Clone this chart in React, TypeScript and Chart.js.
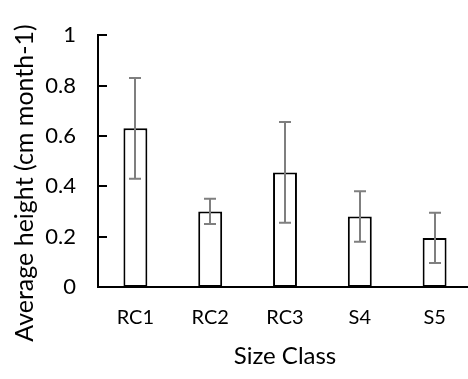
import React, { useEffect, useRef } from 'react';
import { Chart, registerables } from 'chart.js';

Chart.register(...registerables);

const categories = ['RC1', 'RC2', 'RC3', 'S4', 'S5'];
const values = [0.63, 0.3, 0.455, 0.28, 0.195];
const errors = [0.2, 0.05, 0.2, 0.1, 0.1];
const yTickValues = [0, 0.2, 0.4, 0.6, 0.8, 1];
const xTitle = 'Size Class';
const yTitle = 'Average height (cm month-1)';

const FONT = 'Lato';
const TEXT = '#000000';

export default function App() {
  const ref = useRef<HTMLCanvasElement>(null);

  useEffect(() => {
    let chart: Chart | null = null;
    let cancelled = false;

    const errorBars = {
      id: 'errorBars',
      afterDatasetsDraw(c: any) {
        const { ctx } = c;
        const meta = c.getDatasetMeta(0);
        const ys = c.scales.y;
        ctx.save();
        ctx.strokeStyle = '#7f7f7f';
        ctx.lineWidth = 2;
        meta.data.forEach((bar: any, i: number) => {
          const x = Math.round(bar.x);
          const yt = ys.getPixelForValue(values[i] + errors[i]);
          const yb = ys.getPixelForValue(values[i] - errors[i]);
          ctx.beginPath();
          ctx.moveTo(x, yt);
          ctx.lineTo(x, yb);
          ctx.moveTo(x - 6, yt);
          ctx.lineTo(x + 6, yt);
          ctx.moveTo(x - 6, yb);
          ctx.lineTo(x + 6, yb);
          ctx.stroke();
        });
        ctx.restore();
      },
    };

    const extras = {
      id: 'extras',
      afterDraw(c: any) {
        const { ctx, chartArea } = c;
        const ys = c.scales.y;
        ctx.save();
        ctx.strokeStyle = '#000';
        ctx.lineWidth = 2;
        yTickValues.forEach((v) => {
          const y = Math.round(ys.getPixelForValue(v));
          ctx.beginPath();
          ctx.moveTo(chartArea.left, y);
          ctx.lineTo(chartArea.left + 9, y);
          ctx.stroke();
        });
        ctx.fillStyle = TEXT;
        ctx.font = `25px ${FONT}`;
        ctx.translate(33, 183);
        ctx.rotate(-Math.PI / 2);
        ctx.textAlign = 'center';
        ctx.textBaseline = 'alphabetic';
        ctx.fillText(yTitle, 0, 0);
        ctx.restore();
      },
    };

    const create = () => {
      if (cancelled || !ref.current) return;
      chart = new Chart(ref.current, {
        type: 'bar',
        data: {
          labels: categories,
          datasets: [
            {
              data: values,
              backgroundColor: '#ffffff',
              borderColor: '#000000',
              borderWidth: 2,
              borderSkipped: false,
              barPercentage: 0.32,
              categoryPercentage: 1,
            },
          ],
        },
        options: {
          responsive: false,
          animation: false,
          devicePixelRatio: 1,
          layout: { padding: { top: 15, left: 0, right: 0, bottom: 0 } },
          plugins: {
            legend: { display: false },
            tooltip: { enabled: false },
          },
          scales: {
            x: {
              grid: { display: false, drawTicks: false },
              border: { display: true, color: '#000', width: 2 },
              ticks: {
                color: TEXT,
                font: { family: FONT, size: 20 },
                padding: 19,
                maxRotation: 0,
              },
              title: {
                display: true,
                text: xTitle,
                color: TEXT,
                font: { family: FONT, size: 24 },
                padding: { top: 0, bottom: 8 },
              },
              afterFit: (s: any) => {
                s.height = 92;
              },
            },
            y: {
              min: 0,
              max: 1,
              grid: { display: false, drawTicks: false },
              border: { display: true, color: '#000', width: 2 },
              afterBuildTicks: (s: any) => {
                s.ticks = yTickValues.map((v) => ({ value: v }));
              },
              ticks: {
                color: TEXT,
                font: { family: FONT, size: 22 },
                padding: 22,
                callback: (v: any) => String(Math.round(Number(v) * 10) / 10),
              },
              afterFit: (s: any) => {
                s.width = 98;
              },
            },
          },
        },
        plugins: [errorBars, extras],
      });
    };

    if ((document as any).fonts && (document as any).fonts.load) {
      Promise.all([
        (document as any).fonts.load(`20px ${FONT}`),
        (document as any).fonts.load(`25px ${FONT}`),
      ])
        .catch(() => {})
        .then(create);
    } else {
      create();
    }

    return () => {
      cancelled = true;
      if (chart) chart.destroy();
    };
  }, []);

  return (
    <div
      style={{
        position: 'absolute',
        left: 0,
        top: 0,
        width: 468,
        height: 379,
        overflow: 'hidden',
        background: '#fff',
      }}
    >
      <canvas ref={ref} width={472} height={379} style={{ display: 'block' }} />
    </div>
  );
}
